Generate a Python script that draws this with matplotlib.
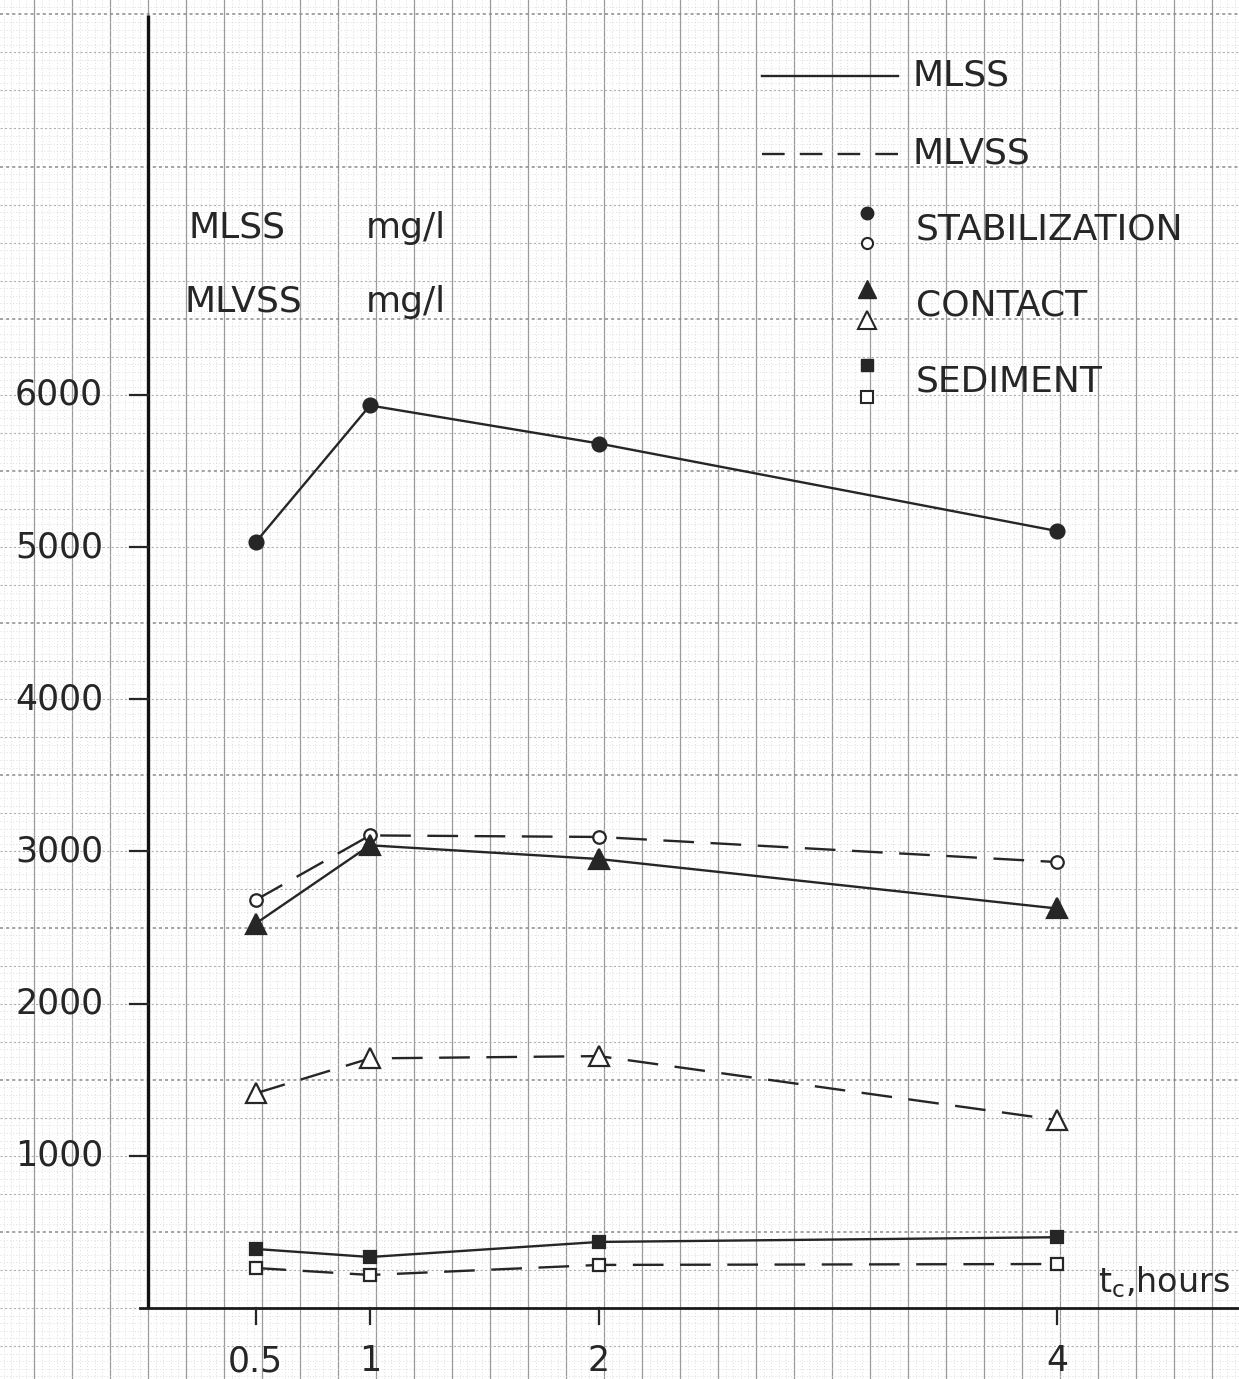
import numpy as np
import matplotlib
matplotlib.use("Agg")
import matplotlib.pyplot as plt

# contact time, hours
hours = [0.5, 1, 2, 4]

# solids concentration, mg/l
stab_mlss = [5030, 5930, 5680, 5105]
stab_mlvss = [2680, 3105, 3095, 2930]
cont_mlss = [2525, 3040, 2950, 2625]
cont_mlvss = [1410, 1640, 1655, 1235]
sed_mlss = [388, 335, 434, 465]
sed_mlvss = [263, 217, 283, 289]

y_ticks = [1000, 2000, 3000, 4000, 5000, 6000]
x_ticks = [0.5, 1, 2, 4]
x_tick_labels = ["0.5", "1", "2", "4"]

W, H = 1239, 1379
ink = "#262626"
plt.rcParams["font.family"] = ["DejaVu Sans"]
plt.rcParams["mathtext.fontset"] = "dejavusans"

fig = plt.figure(figsize=(W / 100, H / 100), dpi=100)
fig.patch.set_facecolor("white")
ax = fig.add_axes([0, 0, 1, 1])
ax.set_axis_off()

# pixel scale of the sheet: 229 px per hour, 0.1522 px per mg/l
x0_px, y0_px = 141, 1308
px_per_h, px_per_mg = 229.0, 0.1522
ax.set_xlim(-x0_px / px_per_h, (W - x0_px) / px_per_h)
ax.set_ylim(-(H - y0_px) / px_per_mg, y0_px / px_per_mg)
xmin, xmax = ax.get_xlim()
ymin, ymax = ax.get_ylim()

# graph paper: 1 mm dotted, 5 mm lines, darker every 2 cm
cell_x = 38 / px_per_h
x_off = 7 / px_per_h
for k in range(-25 * 5, 40 * 5):
    x = x_off + k * cell_x / 5
    if x < xmin or x > xmax:
        continue
    if k % 5 == 0:
        ax.axvline(x, color="#9a9a9a", lw=0.9, zorder=0)
    else:
        ax.axvline(x, color="#d2d2d2", lw=0.5, ls=(0, (1.5, 3)), zorder=0)
for k in range(-10 * 5, 40 * 5):
    y = k * 50
    if y < ymin or y > ymax:
        continue
    if k % 5 == 0:
        heavy = (k // 5) % 4 == 2
        ax.axhline(y, color="#8a8a8a" if heavy else "#b0b0b0",
                   lw=1.1 if heavy else 0.8, ls=(0, (2, 2)), zorder=0)
    else:
        ax.axhline(y, color="#d2d2d2", lw=0.5, ls=(0, (1.5, 3)), zorder=0)

# axes drawn by hand
ax.plot([x_off, x_off], [0, ymax - 15 / px_per_mg], color="#111111", lw=2.4,
        solid_capstyle="butt", zorder=3)
ax.plot([-1 / px_per_h, xmax], [0, 0], color="#1a1a1a", lw=2.0, zorder=3)
for t in y_ticks:
    ax.plot([x_off - 18 / px_per_h, x_off], [t, t], color=ink, lw=1.6, zorder=3)
    ax.text(-126 / px_per_h, t, str(t), ha="left", va="center", fontsize=25,
            color=ink)
for t, lab in zip(x_ticks, x_tick_labels):
    ax.plot([t, t], [0, -16 / px_per_mg], color=ink, lw=1.6, zorder=3)
    ax.text(t, -36 / px_per_mg, lab, ha="center", va="top", fontsize=25,
            color=ink)

ax.text(4.18, 8 / px_per_mg, r"$\mathregular{t_c}$,hours", ha="left",
        va="bottom", fontsize=24, color=ink)

dash = (0, (13, 7))
series = [
    (stab_mlss, "-", "o", ink, 10),
    (stab_mlvss, dash, "o", "white", 9),
    (cont_mlss, "-", "^", ink, 14),
    (cont_mlvss, dash, "^", "white", 14),
    (sed_mlss, "-", "s", ink, 9),
    (sed_mlvss, dash, "s", "white", 9),
]
for vals, ls, mk, fc, ms in series:
    ax.plot(hours, vals, ls=ls, color=ink, lw=1.7, marker=mk, ms=ms,
            mfc=fc, mec=ink, mew=1.6, zorder=4)

# legend block, figure fractions
def fx(px):
    return px / W


def fy(py):
    return 1 - py / H


fig.add_artist(plt.Line2D([fx(762), fx(898)], [fy(76), fy(76)], color=ink,
                          lw=1.7))
fig.add_artist(plt.Line2D([fx(762), fx(898)], [fy(154), fy(154)], color=ink,
                          lw=1.7, ls=(0, (9.6, 6.4))))
fig.text(fx(913), fy(76), "MLSS", ha="left", va="center", fontsize=26,
         color=ink)
fig.text(fx(913), fy(154), "MLVSS", ha="left", va="center", fontsize=26,
         color=ink)

keys = [
    ("o", 213, 243, 9, 8, "STABILIZATION", 230),
    ("^", 289, 320, 13, 13, "CONTACT", 305),
    ("s", 365, 397, 8, 8, "SEDIMENT", 382),
]
for mk, py_f, py_o, ms_f, ms_o, label, py_t in keys:
    fig.add_artist(plt.Line2D([fx(867)], [fy(py_f)], marker=mk, ms=ms_f,
                              mfc=ink, mec=ink, ls="none"))
    fig.add_artist(plt.Line2D([fx(867)], [fy(py_o)], marker=mk, ms=ms_o,
                              mfc="white", mec=ink, mew=1.5, ls="none"))
    fig.text(fx(916), fy(py_t), label, ha="left", va="center", fontsize=26,
             color=ink)

fig.text(fx(188), fy(228), "MLSS", ha="left", va="center", fontsize=26,
         color=ink)
fig.text(fx(366), fy(228), "mg/l", ha="left", va="center", fontsize=26,
         color=ink)
fig.text(fx(184), fy(302), "MLVSS", ha="left", va="center", fontsize=26,
         color=ink)
fig.text(fx(366), fy(302), "mg/l", ha="left", va="center", fontsize=26,
         color=ink)

fig.savefig("out.png", dpi=100, facecolor="white")
